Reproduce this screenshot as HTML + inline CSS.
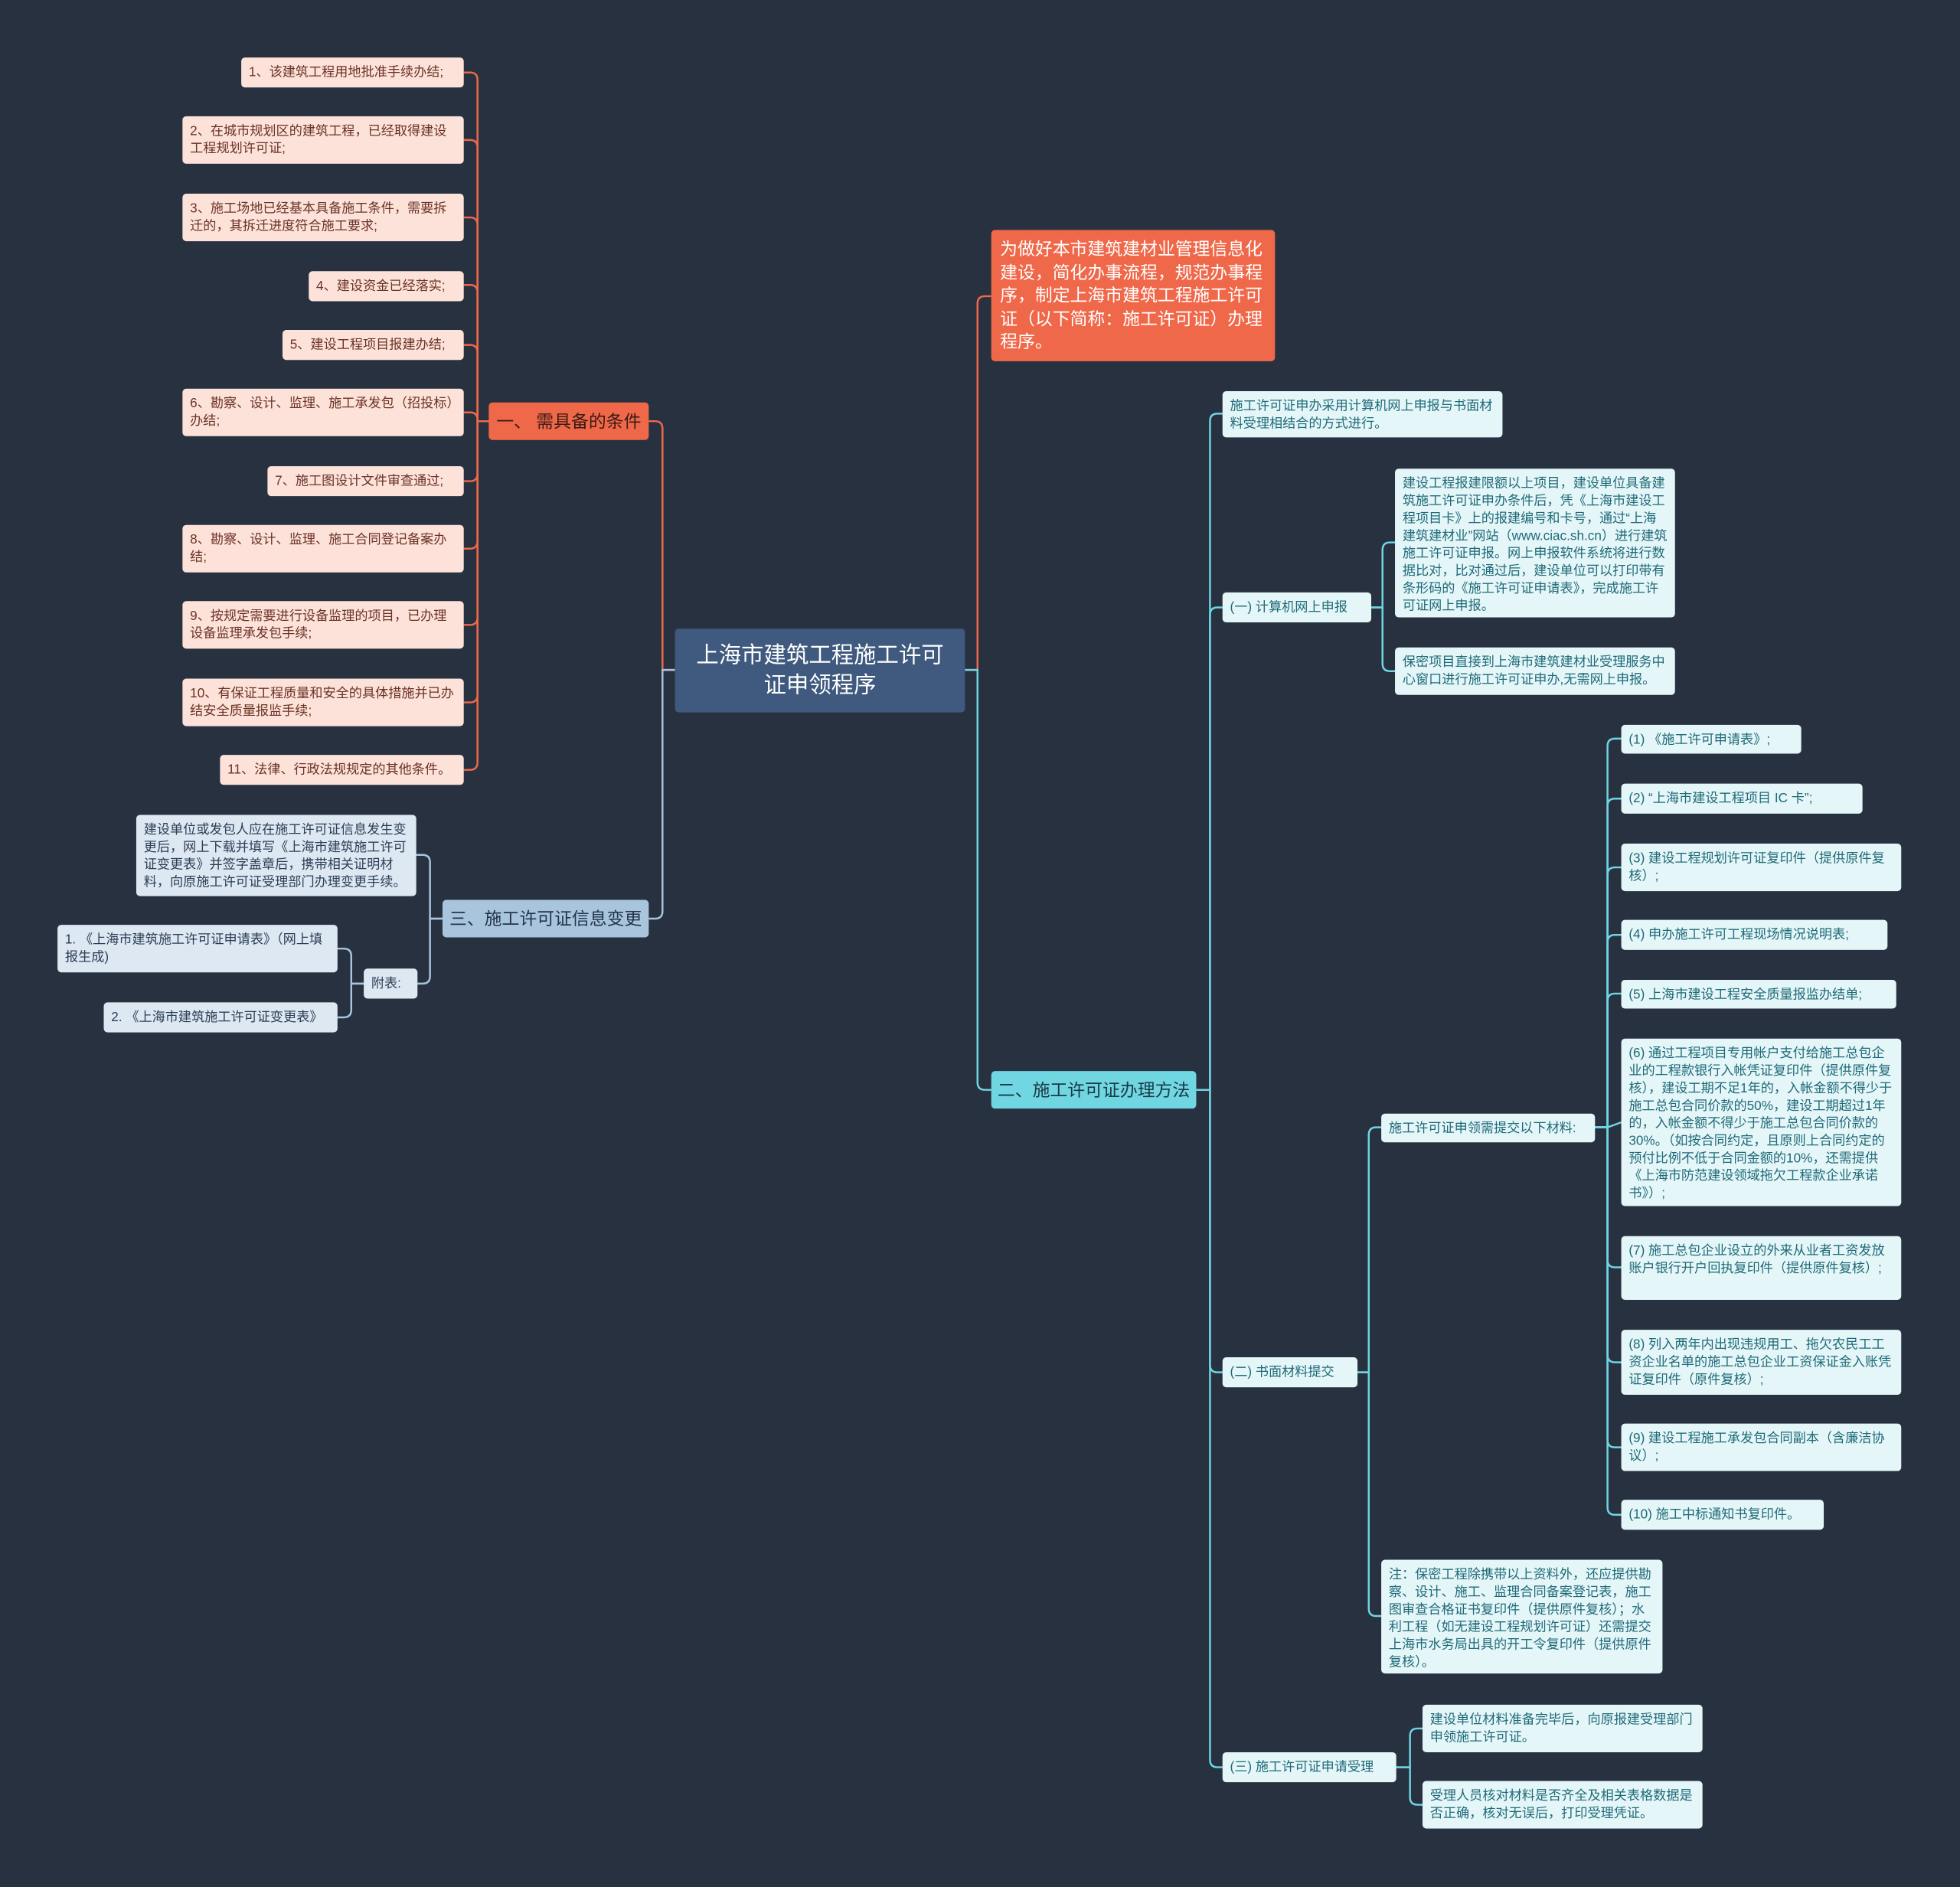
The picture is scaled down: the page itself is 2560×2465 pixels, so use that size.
<!DOCTYPE html>
<html><head><meta charset="utf-8">
<style>
html,body{margin:0;padding:0;background:#283140;width:2560px;height:2465px;overflow:hidden}
#w{position:absolute;left:0;top:0;width:1568px;height:1510px;transform:scale(1.63265);transform-origin:0 0;font-family:"Liberation Sans","Noto Sans CJK SC",sans-serif}
.n{position:absolute;box-sizing:border-box;border-radius:3px;overflow:hidden}
.l{background:#fde2da;color:#6a3224;font-size:10.5px;line-height:14px;padding:5px 6px}
.r{background:#e4f6f8;color:#1f6a78;font-size:10.5px;line-height:14px;padding:5px 6px}
.b{background:#dde8f2;color:#2c3e55;font-size:10.5px;line-height:14px;padding:5px 6px}
svg{position:absolute;left:0;top:0}
</style></head><body><div id="w">
<svg id="s" width="1568" height="1510"></svg>
<div class="n" style="left:540px;top:503px;width:232px;height:67px;background:#3f5a7e;color:#fff;font-size:18px;line-height:24px;text-align:center;padding:9px 15px">上海市建筑工程施工许可证申领程序</div>
<div class="n" style="left:391px;top:322px;width:128px;height:30px;background:#f0684a;color:#3a1a12;font-size:14px;line-height:30px;text-align:center">一、 需具备的条件</div>
<div class="n l" style="left:193px;top:46px;width:178px;height:24px">1、该建筑工程用地批准手续办结;</div>
<div class="n l" style="left:146px;top:93px;width:225px;height:38px">2、在城市规划区的建筑工程，已经取得建设工程规划许可证;</div>
<div class="n l" style="left:146px;top:155px;width:225px;height:38px">3、施工场地已经基本具备施工条件，需要拆迁的，其拆迁进度符合施工要求;</div>
<div class="n l" style="left:247px;top:217px;width:124px;height:24px">4、建设资金已经落实;</div>
<div class="n l" style="left:226px;top:264px;width:145px;height:24px">5、建设工程项目报建办结;</div>
<div class="n l" style="left:146px;top:311px;width:225px;height:38px">6、勘察、设计、监理、施工承发包（招投标）办结;</div>
<div class="n l" style="left:214px;top:373px;width:157px;height:24px">7、施工图设计文件审查通过;</div>
<div class="n l" style="left:146px;top:420px;width:225px;height:38px">8、勘察、设计、监理、施工合同登记备案办结;</div>
<div class="n l" style="left:146px;top:481px;width:225px;height:38px">9、按规定需要进行设备监理的项目，已办理设备监理承发包手续;</div>
<div class="n l" style="left:146px;top:543px;width:225px;height:38px">10、有保证工程质量和安全的具体措施并已办结安全质量报监手续;</div>
<div class="n l" style="left:176px;top:604px;width:195px;height:24px">11、法律、行政法规规定的其他条件。</div>
<div class="n" style="left:354px;top:720px;width:165px;height:30px;background:#a9c5de;color:#23344a;font-size:14px;line-height:30px;text-align:center">三、施工许可证信息变更</div>
<div class="n b" style="left:109px;top:652px;width:224px;height:65px">建设单位或发包人应在施工许可证信息发生变更后，网上下载并填写《上海市建筑施工许可证变更表》并签字盖章后，携带相关证明材料，向原施工许可证受理部门办理变更手续。</div>
<div class="n b" style="left:291px;top:775px;width:43px;height:24px">附表:</div>
<div class="n b" style="left:46px;top:740px;width:224px;height:38px">1. 《上海市建筑施工许可证申请表》（网上填报生成)</div>
<div class="n b" style="left:83px;top:802px;width:187px;height:24px">2. 《上海市建筑施工许可证变更表》</div>
<div class="n" style="left:793px;top:184px;width:227px;height:105px;background:#f0684a;color:#fff;font-size:14px;line-height:18.5px;padding:6px 7px">为做好本市建筑建材业管理信息化建设，简化办事流程，规范办事程序，制定上海市建筑工程施工许可证（以下简称：施工许可证）办理程序。</div>
<div class="n" style="left:793px;top:857px;width:164px;height:30px;background:#6fd6e2;color:#1a3a44;font-size:14px;line-height:30px;text-align:center">二、施工许可证办理方法</div>
<div class="n r" style="left:978px;top:313px;width:224px;height:37px">施工许可证申办采用计算机网上申报与书面材料受理相结合的方式进行。</div>
<div class="n r" style="left:978px;top:474px;width:119px;height:24px">(一) 计算机网上申报</div>
<div class="n r" style="left:1116px;top:375px;width:224px;height:119px">建设工程报建限额以上项目，建设单位具备建筑施工许可证申办条件后，凭《上海市建设工程项目卡》上的报建编号和卡号，通过“上海建筑建材业”网站（www.ciac.sh.cn）进行建筑施工许可证申报。网上申报软件系统将进行数据比对，比对通过后，建设单位可以打印带有条形码的《施工许可证申请表》，完成施工许可证网上申报。</div>
<div class="n r" style="left:1116px;top:518px;width:224px;height:38px">保密项目直接到上海市建筑建材业受理服务中心窗口进行施工许可证申办,无需网上申报。</div>
<div class="n r" style="left:978px;top:1086px;width:108px;height:24px">(二) 书面材料提交</div>
<div class="n r" style="left:1105px;top:891px;width:171px;height:23px">施工许可证申领需提交以下材料:</div>
<div class="n r" style="left:1297px;top:580px;width:144px;height:23px">(1) 《施工许可申请表》;</div>
<div class="n r" style="left:1297px;top:627px;width:193px;height:24px">(2) “上海市建设工程项目 IC 卡”;</div>
<div class="n r" style="left:1297px;top:675px;width:224px;height:38px">(3) 建设工程规划许可证复印件（提供原件复核）;</div>
<div class="n r" style="left:1297px;top:736px;width:213px;height:24px">(4) 申办施工许可工程现场情况说明表;</div>
<div class="n r" style="left:1297px;top:784px;width:220px;height:23px">(5) 上海市建设工程安全质量报监办结单;</div>
<div class="n r" style="left:1297px;top:831px;width:224px;height:134px">(6) 通过工程项目专用帐户支付给施工总包企业的工程款银行入帐凭证复印件（提供原件复核），建设工期不足1年的，入帐金额不得少于施工总包合同价款的50%，建设工期超过1年的，入帐金额不得少于施工总包合同价款的30%。（如按合同约定，且原则上合同约定的预付比例不低于合同金额的10%，还需提供《上海市防范建设领域拖欠工程款企业承诺书》）;</div>
<div class="n r" style="left:1297px;top:989px;width:224px;height:51px">(7) 施工总包企业设立的外来从业者工资发放账户银行开户回执复印件（提供原件复核）;</div>
<div class="n r" style="left:1297px;top:1064px;width:224px;height:52px">(8) 列入两年内出现违规用工、拖欠农民工工资企业名单的施工总包企业工资保证金入账凭证复印件（原件复核）;</div>
<div class="n r" style="left:1297px;top:1139px;width:224px;height:38px">(9) 建设工程施工承发包合同副本（含廉洁协议）;</div>
<div class="n r" style="left:1297px;top:1200px;width:162px;height:24px">(10) 施工中标通知书复印件。</div>
<div class="n r" style="left:1105px;top:1248px;width:225px;height:91px">注：保密工程除携带以上资料外，还应提供勘察、设计、施工、监理合同备案登记表，施工图审查合格证书复印件（提供原件复核）；水利工程（如无建设工程规划许可证）还需提交上海市水务局出具的开工令复印件（提供原件复核）。</div>
<div class="n r" style="left:978px;top:1402px;width:139px;height:24px">(三) 施工许可证申请受理</div>
<div class="n r" style="left:1138px;top:1364px;width:224px;height:38px">建设单位材料准备完毕后，向原报建受理部门申领施工许可证。</div>
<div class="n r" style="left:1138px;top:1425px;width:224px;height:38px">受理人员核对材料是否齐全及相关表格数据是否正确，核对无误后，打印受理凭证。</div>
</div>
<script>
var E=[
["#f0684a",772,536,782,[[793,237]]],
["#6fd6e2",772,536,782,[[793,872]]],
["#f0684a",540,536,530,[[519,337]]],
["#a9c5de",540,536,530,[[519,735]]],
["#f0684a",391,337,382,[58,112,174,228,276,330,385,439,500,562,616].map(function(y){return[371,y]})],
["#a9c5de",354,735,344,[[333,684],[334,787]]],
["#a9c5de",291,787,281,[[270,759],[270,814]]],
["#6fd6e2",957,872,968,[[978,331],[978,486],[978,1098],[978,1414]]],
["#6fd6e2",1097,486,1106,[[1116,434],[1116,537]]],
["#6fd6e2",1086,1098,1095,[[1105,902],[1105,1293]]],
["#6fd6e2",1276,902,1286,[591,639,694,748,795,898,1014,1090,1158,1212].map(function(y){return[1297,y]})],
["#6fd6e2",1117,1414,1128,[[1138,1383],[1138,1444]]]];
var h="";
E.forEach(function(e){var c=e[0],px=e[1],py=e[2],vx=e[3];e[4].forEach(function(k){var cx=k[0],cy=k[1],d;var dir=cx>vx?1:-1,r=6;
if(Math.abs(cy-py)<r+1){d="M"+px+","+py+" H"+vx+" L"+cx+","+cy;}else{var s=cy>py?1:-1;d="M"+px+","+py+" H"+vx+" V"+(cy-s*r)+" Q"+vx+","+cy+" "+(vx+dir*r)+","+cy+" H"+cx;}
h+='<path d="'+d+'" fill="none" stroke="'+c+'" stroke-width="1.5"/>';});});
document.getElementById("s").innerHTML=h;
</script>
</body></html>
